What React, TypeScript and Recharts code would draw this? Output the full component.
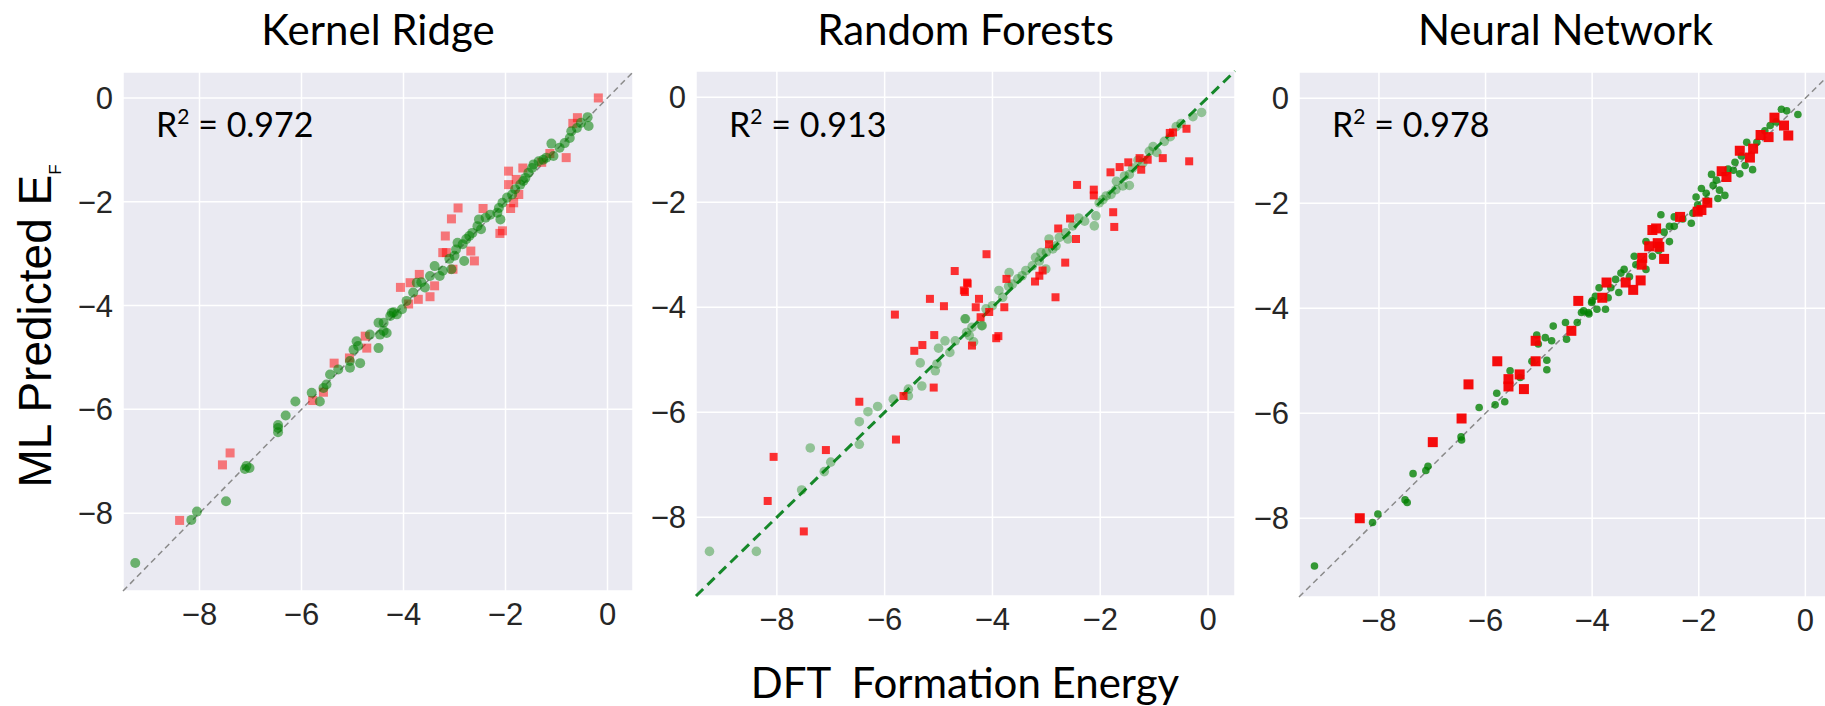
import React from "react";
import { ScatterChart, Scatter, XAxis, YAxis, CartesianGrid, ReferenceLine } from "recharts";

// ---------- data (DFT formation energy, ML predicted) ----------
const axisTicks = [-8, -6, -4, -2, 0];
const axisDomain: [number, number] = [-9.5, 0.5];
const panelTitles = ["Kernel Ridge", "Random Forests", "Neural Network"];
const r2Values = ["0.972", "0.913", "0.978"];
const xAxisTitle = "DFT  Formation Energy";
const yAxisTitle = "ML Predicted E";
const yAxisSub = "F";

const krTrain: [number, number][] = [
  [-0.39, -0.37], [-0.37, -0.54], [-0.52, -0.48], [-0.71, -0.64], [-0.74, -0.77], [-0.84, -0.87],
  [-1.1, -0.88], [-0.94, -0.96], [-1.06, -1.12], [-1.26, -1.19], [-1.35, -1.22], [-1.45, -1.28],
  [-1.48, -1.35], [-1.55, -1.44], [-1.61, -1.54], [-1.71, -1.67], [-1.81, -1.76], [-1.87, -1.86],
  [-1.97, -1.92], [-2.06, -2.02], [-2.13, -2.12], [-2.16, -2.21], [-2.1, -2.34], [-2.39, -2.31],
  [-2.52, -2.34], [-2.55, -2.47], [-2.48, -2.53], [-2.71, -2.66], [-2.77, -2.72], [-2.84, -2.82],
  [-2.94, -2.79], [-2.97, -2.92], [-2.81, -3.14], [-3.0, -3.04], [-3.06, -3.3], [-3.23, -3.33],
  [-3.39, -3.24], [-3.29, -3.43], [-3.48, -3.43], [-3.58, -3.65], [-3.74, -3.56], [-3.81, -3.75],
  [-3.94, -3.91], [-4.03, -4.07], [-4.19, -4.13], [-4.26, -4.2], [-4.39, -4.33], [-4.39, -4.49],
  [-4.23, -4.14], [-4.13, -4.17], [-4.49, -4.33], [-4.33, -4.53], [-4.46, -4.56], [-4.66, -4.56],
  [-4.49, -4.82], [-4.92, -4.69], [-4.89, -4.78], [-4.98, -4.85], [-4.85, -5.11], [-5.05, -5.07],
  [-5.05, -5.2], [-5.28, -5.23], [-5.44, -5.33], [-5.51, -5.52], [-5.57, -5.59], [-5.8, -5.68],
  [-5.64, -5.85], [-6.12, -5.85], [-6.31, -6.12], [-6.46, -6.3], [-6.46, -6.36], [-6.46, -6.44],
  [-7.08, -7.09], [-7.02, -7.13], [-7.11, -7.15], [-7.48, -7.77], [-8.05, -7.97], [-8.16, -8.13],
  [-9.26, -8.96], [-0.6, -0.58], [-1.2, -1.15], [-1.65, -1.6], [-2.3, -2.25], [-2.65, -2.6],
  [-3.1, -3.1], [-3.65, -3.55],
];
const krTest: [number, number][] = [
  [-0.18, 0.0], [-0.59, -0.38], [-0.68, -0.49], [-0.81, -1.15], [-1.13, -1.07], [-1.29, -1.24],
  [-1.66, -1.35], [-1.94, -1.41], [-1.79, -1.57], [-1.94, -1.67], [-1.74, -1.86], [-1.84, -2.02],
  [-1.9, -2.13], [-2.06, -2.56], [-2.11, -2.61], [-2.93, -2.12], [-2.44, -2.13], [-3.06, -2.33],
  [-3.18, -2.66], [-3.23, -2.98], [-3.16, -2.98], [-2.68, -2.95], [-2.61, -3.14], [-3.03, -3.3],
  [-3.69, -3.4], [-3.39, -3.62], [-3.48, -3.83], [-3.87, -3.56], [-4.06, -3.65], [-3.71, -3.88],
  [-3.9, -3.97], [-4.75, -4.59], [-4.72, -4.82], [-5.06, -5.01], [-5.36, -5.11], [-5.57, -5.67],
  [-5.78, -5.83], [-7.4, -6.84], [-7.55, -7.07], [-8.39, -8.14],
];

const rfTrain: [number, number][] = [
  [-0.12, -0.29], [-0.28, -0.37], [-0.59, -0.56], [-0.81, -0.84], [-1.02, -0.94], [-1.09, -1.03],
  [-1.21, -1.25], [-1.4, -1.35], [-1.46, -1.47], [-1.55, -1.5], [-1.46, -1.68], [-1.58, -1.69],
  [-1.71, -1.76], [-1.8, -1.85], [-1.89, -1.88], [-1.95, -1.95], [-2.02, -2.01], [-2.08, -2.26],
  [-2.11, -2.45], [-2.29, -2.36], [-2.51, -2.45], [-2.64, -2.58], [-2.76, -2.67], [-2.95, -2.7],
  [-2.82, -2.83], [-2.88, -2.89], [-3.1, -2.96], [-3.13, -3.12], [-3.26, -3.21], [-3.38, -3.3],
  [-3.01, -3.27], [-3.69, -3.34], [-3.53, -3.46], [-3.63, -3.56], [-3.88, -3.68], [-3.81, -3.81],
  [-4.0, -3.97], [-4.12, -4.03], [-4.5, -4.22], [-4.19, -4.35], [-4.43, -4.54], [-4.51, -4.22],
  [-4.38, -4.38], [-4.2, -4.35], [-4.48, -4.48], [-4.35, -4.66], [-4.69, -4.64], [-4.88, -4.64],
  [-5.0, -4.78], [-4.79, -4.86], [-5.34, -5.06], [-5.03, -5.08], [-5.06, -5.21], [-5.31, -5.5],
  [-5.56, -5.56], [-5.56, -5.69], [-5.84, -5.75], [-6.13, -5.89], [-6.31, -5.99], [-6.47, -6.18],
  [-6.47, -6.61], [-7.38, -6.68], [-7.0, -6.95], [-7.12, -7.13], [-7.54, -7.48], [-8.38, -8.65],
  [-9.25, -8.65], [-0.5, -0.5], [-0.7, -0.75], [-0.95, -1.05], [-1.3, -1.2], [-1.7, -1.6],
  [-2.4, -2.3], [-2.6, -2.7], [-3.2, -3.05], [-3.0, -2.95], [-3.45, -3.4], [-3.7, -3.6],
];
const rfTest: [number, number][] = [
  [-0.4, -0.6], [-0.65, -0.67], [-0.71, -0.68], [-0.84, -1.16], [-0.35, -1.22], [-1.12, -1.19],
  [-1.27, -1.16], [-1.24, -1.38], [-1.48, -1.24], [-1.64, -1.33], [-1.81, -1.43], [-2.43, -1.67],
  [-2.12, -1.76], [-2.12, -1.87], [-1.76, -2.19], [-1.74, -2.47], [-2.56, -2.31], [-2.78, -2.5],
  [-2.45, -2.7], [-2.95, -2.8], [-4.11, -2.99], [-2.65, -3.15], [-3.07, -3.3], [-3.13, -3.4],
  [-3.21, -3.51], [-3.74, -3.46], [-2.83, -3.81], [-4.47, -3.53], [-4.53, -3.68], [-4.25, -3.84],
  [-4.31, -4.0], [-3.78, -4.0], [-4.06, -4.09], [-4.22, -4.19], [-3.89, -4.55], [-4.7, -3.31],
  [-4.46, -3.55], [-4.51, -3.71], [-5.16, -3.84], [-4.9, -3.98], [-5.81, -4.14], [-5.08, -4.53],
  [-3.93, -4.59], [-4.38, -4.73], [-5.3, -4.72], [-5.45, -4.83], [-5.09, -5.53], [-5.65, -5.69],
  [-6.47, -5.8], [-5.79, -6.52], [-7.09, -6.72], [-8.06, -6.85], [-8.17, -7.69], [-7.5, -8.27],
];

const nnTrain: [number, number][] = [
  [-0.45, -0.21], [-0.35, -0.24], [-0.14, -0.31], [-0.66, -0.52], [-0.76, -0.62], [-0.91, -0.84],
  [-1.1, -0.84], [-1.32, -1.22], [-1.13, -1.28], [-0.99, -1.36], [-1.35, -1.37], [-1.23, -1.44],
  [-1.76, -1.45], [-1.67, -1.56], [-1.73, -1.66], [-1.95, -1.72], [-1.61, -1.75], [-1.51, -1.85],
  [-1.86, -1.81], [-2.05, -1.88], [-1.64, -1.91], [-2.02, -2.03], [-2.11, -2.19], [-2.14, -2.38],
  [-2.46, -2.26], [-2.71, -2.22], [-2.55, -2.44], [-2.46, -2.44], [-2.99, -2.73], [-2.55, -2.73],
  [-2.87, -3.01], [-3.21, -3.01], [-2.99, -3.26], [-3.18, -3.17], [-3.4, -3.26], [-3.46, -3.33],
  [-3.56, -3.45], [-3.65, -3.61], [-3.87, -3.61], [-3.5, -3.7], [-3.94, -3.77], [-4.0, -3.86],
  [-3.75, -4.02], [-4.16, -4.05], [-4.06, -4.11], [-3.91, -4.02], [-4.28, -4.27], [-4.5, -4.27],
  [-4.01, -3.89], [-4.07, -4.08], [-4.2, -4.08], [-4.73, -4.34], [-4.48, -4.59], [-4.76, -4.62],
  [-4.88, -4.56], [-5.04, -4.51], [-5.01, -4.68], [-4.85, -4.99], [-4.85, -5.17], [-5.13, -5.01],
  [-5.54, -5.19], [-5.35, -5.32], [-5.79, -5.62], [-5.64, -5.78], [-5.82, -5.84], [-6.12, -5.89],
  [-6.46, -6.45], [-6.45, -6.51], [-7.08, -7.01], [-7.12, -7.09], [-7.36, -7.15], [-7.51, -7.65],
  [-7.47, -7.7], [-8.02, -7.92], [-8.12, -8.08], [-9.21, -8.91], [-0.55, -0.45], [-1.2, -1.1],
  [-1.45, -1.35], [-1.85, -1.95], [-2.3, -2.3], [-2.65, -2.55], [-2.75, -2.9], [-3.3, -3.4],
  [-3.7, -3.8],
];
const nnTest: [number, number][] = [
  [-0.58, -0.37], [-0.4, -0.52], [-0.32, -0.71], [-0.84, -0.7], [-0.69, -0.74], [-0.98, -0.96],
  [-1.23, -1.0], [-1.04, -1.13], [-1.57, -1.39], [-1.48, -1.5], [-1.84, -1.99], [-1.95, -2.13],
  [-2.02, -2.16], [-2.35, -2.26], [-2.8, -2.48], [-2.87, -2.51], [-2.77, -2.76], [-2.93, -2.82],
  [-2.74, -2.83], [-2.65, -3.06], [-3.06, -3.04], [-3.07, -3.17], [-3.09, -3.47], [-3.37, -3.51],
  [-3.23, -3.65], [-3.73, -3.51], [-3.81, -3.8], [-4.26, -3.86], [-4.39, -4.43], [-5.06, -4.62],
  [-5.06, -5.01], [-5.78, -5.01], [-5.36, -5.26], [-5.57, -5.35], [-5.57, -5.49], [-5.28, -5.54],
  [-6.32, -5.45], [-6.45, -6.1], [-6.99, -6.55], [-8.36, -8.0],
];

const toPoints = (arr: [number, number][]) => arr.map(([x, y]) => ({ x, y }));
const fmt = (v: number) => (v < 0 ? "\u2212" + Math.abs(v) : String(v));

type PanelProps = {
  plotLeft: number; plotTop: number; plotW: number; plotH: number;
  train: [number, number][]; test: [number, number][];
  greenFill: string; greenR: number; redFill: string; redSize: number;
  lineColor: string; lineWidth: number; lineDash: string; redOnTop: boolean;
};

const YW = 110;
const tickStyle = { fill: "#262626", fontSize: 31, fontFamily: "Liberation Sans, Arial, sans-serif" };

function Panel(p: PanelProps) {
  const chartW = YW + p.plotW + 10;
  const chartH = p.plotTop + p.plotH + 70;
  const greenShape = (s: any) => <circle cx={s.cx} cy={s.cy} r={p.greenR} fill={p.greenFill} />;
  const redShape = (s: any) => (
    <rect x={s.cx - p.redSize / 2} y={s.cy - p.redSize / 2} width={p.redSize} height={p.redSize} fill={p.redFill} />
  );
  const greenSeries = <Scatter key="g" data={toPoints(p.train)} shape={greenShape} isAnimationActive={false} />;
  const redSeries = <Scatter key="r" data={toPoints(p.test)} shape={redShape} isAnimationActive={false} />;
  return (
    <div style={{ position: "absolute", left: p.plotLeft - YW, top: 0 }}>
      <ScatterChart width={chartW} height={chartH} margin={{ top: p.plotTop, right: 10, bottom: 20, left: 0 }}>
        <CartesianGrid fill="#EAEAF2" stroke="#ffffff" strokeWidth={1.5} />
        <XAxis type="number" dataKey="x" domain={axisDomain} ticks={axisTicks} allowDataOverflow
          axisLine={false} tickLine={false} height={50} tickMargin={6} tickFormatter={fmt} tick={tickStyle} />
        <YAxis type="number" dataKey="y" domain={axisDomain} ticks={axisTicks} allowDataOverflow
          axisLine={false} tickLine={false} width={YW} tickMargin={4} tickFormatter={fmt} tick={tickStyle} />
        <ReferenceLine segment={[{ x: -9.5, y: -9.5 }, { x: 0.5, y: 0.5 }]} stroke={p.lineColor}
          strokeWidth={p.lineWidth} strokeDasharray={p.lineDash} ifOverflow="visible" />
        {p.redOnTop ? [greenSeries, redSeries] : [redSeries, greenSeries]}
      </ScatterChart>
    </div>
  );
}

const panels: PanelProps[] = [
  { plotLeft: 123, plotTop: 72, plotW: 510, plotH: 519, train: krTrain, test: krTest,
    greenFill: "rgba(0,128,0,0.55)", greenR: 5, redFill: "rgba(255,0,0,0.5)", redSize: 9,
    lineColor: "#8a8a8a", lineWidth: 1.5, lineDash: "6 4", redOnTop: false },
  { plotLeft: 696, plotTop: 71, plotW: 539, plotH: 525, train: rfTrain, test: rfTest,
    greenFill: "rgba(0,128,0,0.38)", greenR: 4.8, redFill: "rgba(255,0,0,0.8)", redSize: 8,
    lineColor: "#16882a", lineWidth: 3, lineDash: "10 6", redOnTop: true },
  { plotLeft: 1299, plotTop: 72, plotW: 533, plotH: 525, train: nnTrain, test: nnTest,
    greenFill: "rgba(0,128,0,0.78)", greenR: 3.8, redFill: "rgba(245,0,0,0.95)", redSize: 10,
    lineColor: "#8a8a8a", lineWidth: 1.5, lineDash: "6 4", redOnTop: true },
];

const calibri = "Lato, Carlito, Calibri, sans-serif";

export default function App() {
  return (
    <div style={{ position: "absolute", left: 0, top: 0, width: 1825, height: 706, overflow: "hidden", background: "#fff" }}>
      {panels.map((p, i) => <Panel key={i} {...p} />)}
      <svg width={1825} height={706} style={{ position: "absolute", left: 0, top: 0, pointerEvents: "none" }}>
        {panels.map((p, i) => (
          <text key={"t" + i} x={p.plotLeft + p.plotW / 2} y={45} textAnchor="middle" fontFamily={calibri} fontSize={42} fill="#000">
            {panelTitles[i]}
          </text>
        ))}
        {panels.map((p, i) => (
          <text key={"r" + i} x={p.plotLeft + 33} y={137} fontFamily={calibri} fontSize={34} fill="#000">
            <tspan>R</tspan>
            <tspan dy={-13} fontSize={21}>2</tspan>
            <tspan dy={13}>{" = " + r2Values[i]}</tspan>
          </text>
        ))}
        <text x={965} y={698} textAnchor="middle" fontFamily={calibri} fontSize={42} fill="#000" style={{ whiteSpace: "pre" }}>
          {xAxisTitle}
        </text>
        <text transform="translate(51,326) rotate(-90)" textAnchor="middle" fontFamily="Liberation Sans, Arial, sans-serif" fontSize={46} fill="#000">
          <tspan>{yAxisTitle}</tspan>
          <tspan dy={10} fontSize={17}>{yAxisSub}</tspan>
        </text>
      </svg>
    </div>
  );
}
